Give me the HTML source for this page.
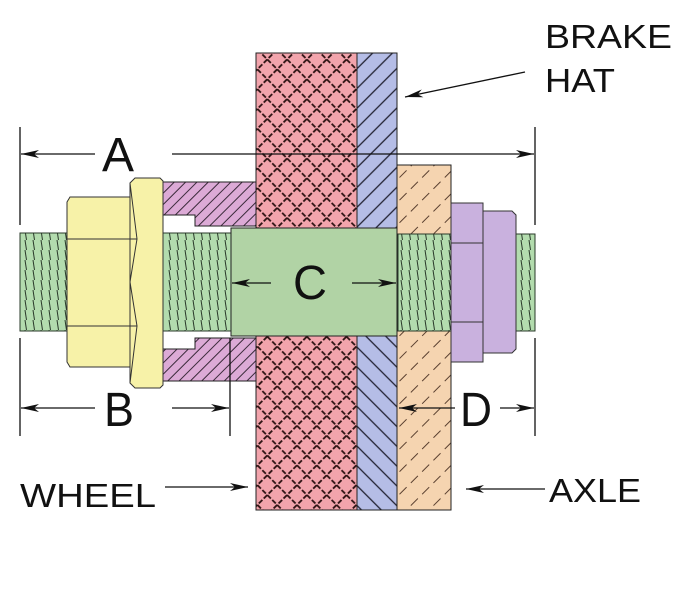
<!DOCTYPE html>
<html><head><meta charset="utf-8"><style>html,body{margin:0;padding:0;background:#fff}svg{display:block}</style></head>
<body>
<svg width="688" height="612" viewBox="0 0 688 612" xmlns="http://www.w3.org/2000/svg" font-family="Liberation Sans, sans-serif">
<defs>
<pattern id="cross" width="14" height="14" patternUnits="userSpaceOnUse" patternTransform="rotate(45)">
<rect width="14" height="14" fill="#f2a4ac"/>
<path d="M0 7H14M7 0V14" stroke="#2a1010" stroke-width="1.8" stroke-dasharray="5 2"/>
</pattern>
<pattern id="blue" width="14" height="14" patternUnits="userSpaceOnUse" patternTransform="rotate(-45)">
<rect width="14" height="14" fill="#b5bde6"/>
<path d="M0 7H14" stroke="#223" stroke-width="1.3"/>
</pattern>
<pattern id="blue2" width="14" height="14" patternUnits="userSpaceOnUse" patternTransform="rotate(45)">
<rect width="14" height="14" fill="#b5bde6"/>
<path d="M0 7H14" stroke="#223" stroke-width="1.3"/>
</pattern>
<pattern id="pur" width="8" height="8" patternUnits="userSpaceOnUse" patternTransform="rotate(-45)">
<rect width="8" height="8" fill="#dcaad6"/>
<path d="M0 4H8" stroke="#3a2a3a" stroke-width="1"/>
</pattern>
<pattern id="org" width="16" height="16" patternUnits="userSpaceOnUse" patternTransform="rotate(-45)">
<rect width="16" height="16" fill="#f5d4b0"/>
<path d="M0 8H16" stroke="#5a4030" stroke-width="1" stroke-dasharray="7 6"/>
</pattern>
<pattern id="thr" width="8" height="10" patternUnits="userSpaceOnUse">
<rect width="8" height="10" fill="#b3dcae"/>
<path d="M1 0L2.5 10" stroke="#2a3a2a" stroke-width="1"/>
</pattern>
<marker id="ar2" markerWidth="18" markerHeight="8" refX="18" refY="4" orient="auto" markerUnits="userSpaceOnUse"><path d="M0 0L18 4L0 8L5 4Z" fill="#111"/></marker>
</defs>

<rect x="256" y="53" width="101" height="457" fill="url(#cross)" stroke="#222"/>
<rect x="357" y="53" width="40" height="230" fill="url(#blue)"/>
<rect x="357" y="283" width="40" height="227" fill="url(#blue2)"/>
<rect x="357" y="53" width="40" height="457" fill="none" stroke="#222"/>
<rect x="397" y="165" width="54" height="345" fill="url(#org)" stroke="#222"/>

<path d="M163 182H256V226H195V215H163Z" fill="url(#pur)" stroke="#222"/>
<path d="M163 381H256V338H195V349H163Z" fill="url(#pur)" stroke="#222"/>

<rect x="20" y="233" width="48" height="98" fill="url(#thr)" stroke="#2a3a2a"/>
<rect x="163" y="233" width="68" height="98" fill="url(#thr)" stroke="#2a3a2a"/>
<rect x="398" y="234" width="53" height="97" fill="url(#thr)" stroke="#2a3a2a"/>
<rect x="516" y="234" width="19" height="97" fill="url(#thr)" stroke="#2a3a2a"/>

<rect x="231" y="228" width="166" height="108" fill="#b1d3a5" stroke="#222"/>

<path d="M70 197H130V367H70L67 362V202Z" fill="#f7f2a8" stroke="#333"/>
<path d="M135 178H160L163 181V385L160 388H135L130 383V183Z" fill="#f7f2a8" stroke="#333"/>
<path d="M67 239H137M67 326H137M130 183L137 239L130 282L137 326L130 383" stroke="#333" fill="none"/>

<rect x="451" y="203" width="32" height="159" fill="#c9b1de" stroke="#333"/>
<path d="M451 243H483M451 322H483" stroke="#333"/>
<path d="M483 211H512L516 215V349L512 353H483Z" fill="#c9b1de" stroke="#333"/>

<g stroke="#111" stroke-width="1.3" fill="none">
<path d="M20 127V225M20 338V436M535 127V225M535 338V436M230 338V436"/>
<path d="M95 154H21" marker-end="url(#ar2)"/>
<path d="M172 154H534" marker-end="url(#ar2)"/>
<path d="M95 408H21" marker-end="url(#ar2)"/>
<path d="M172 408H229" marker-end="url(#ar2)"/>
<path d="M271 283H232" marker-end="url(#ar2)"/>
<path d="M352 283H396" marker-end="url(#ar2)"/>
<path d="M455 408H399" marker-end="url(#ar2)"/>
<path d="M500 408H534" marker-end="url(#ar2)"/>
<path d="M525 72L405 97" marker-end="url(#ar2)"/>
<path d="M165 487H248" marker-end="url(#ar2)"/>
<path d="M545 489H466" marker-end="url(#ar2)"/>
</g>

<g fill="#111" font-size="48">
<text x="102" y="171" textLength="32" lengthAdjust="spacingAndGlyphs">A</text>
<text x="104" y="426" textLength="30" lengthAdjust="spacingAndGlyphs">B</text>
<text x="293" y="299" textLength="34" lengthAdjust="spacingAndGlyphs">C</text>
<text x="460" y="426" textLength="32" lengthAdjust="spacingAndGlyphs">D</text>
</g>
<g fill="#111" font-size="33">
<text x="545" y="48" textLength="127" lengthAdjust="spacingAndGlyphs">BRAKE</text>
<text x="545" y="92" textLength="70" lengthAdjust="spacingAndGlyphs">HAT</text>
<text x="20" y="507" textLength="136" lengthAdjust="spacingAndGlyphs">WHEEL</text>
<text x="549" y="502" textLength="92" lengthAdjust="spacingAndGlyphs">AXLE</text>
</g>
</svg>
</body></html>
